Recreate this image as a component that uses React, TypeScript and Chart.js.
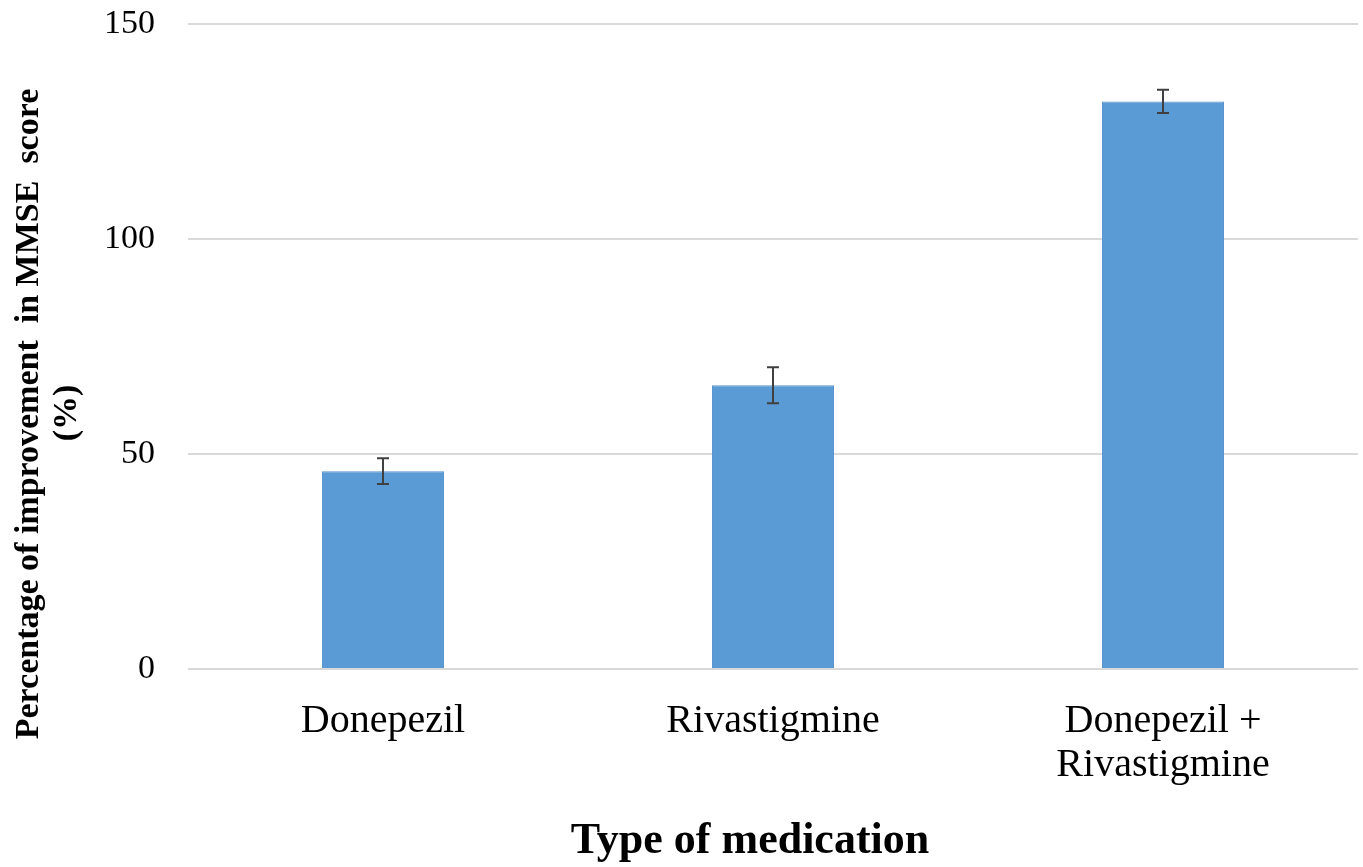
import React, { useEffect, useRef } from "react";
import { Chart, registerables } from "chart.js";

Chart.register(...registerables);

const categories: (string | string[])[] = ["Donepezil", "Rivastigmine", ["Donepezil +", "Rivastigmine"]];
const improvement = [46, 66, 132];
const errors = [3, 4.2, 2.7];
const yTicks = [0, 50, 100, 150];
const yTitleLines = ["Percentage of improvement  in MMSE  score", "(%)"];
const xTitle = "Type of medication";

const FONT = "'Liberation Serif', 'Times New Roman', serif";

const errorBarPlugin = {
  id: "errorBars",
  afterDatasetsDraw(chart: any) {
    const meta = chart.getDatasetMeta(0);
    const y = chart.scales.y;
    const ctx = chart.ctx;
    ctx.save();
    ctx.strokeStyle = "#404040";
    ctx.lineWidth = 2;
    meta.data.forEach((bar: any, i: number) => {
      const v = improvement[i];
      const e = errors[i];
      const x = bar.x;
      const yt = y.getPixelForValue(v + e);
      const yb = y.getPixelForValue(v - e);
      ctx.beginPath();
      ctx.moveTo(x, yt);
      ctx.lineTo(x, yb);
      ctx.moveTo(x - 6, yt);
      ctx.lineTo(x + 6, yt);
      ctx.moveTo(x - 6, yb);
      ctx.lineTo(x + 6, yb);
      ctx.stroke();
    });
    ctx.restore();
  },
};

const titlesPlugin = {
  id: "axisTitles",
  afterDraw(chart: any) {
    const ctx = chart.ctx;
    ctx.save();
    ctx.fillStyle = "#000000";
    ctx.textAlign = "center";
    ctx.textBaseline = "middle";
    ctx.font = `bold 34px ${FONT}`;
    const pos = [
      [29, 414],
      [67, 413],
    ];
    yTitleLines.forEach((line, i) => {
      ctx.save();
      ctx.translate(pos[i][0], pos[i][1]);
      ctx.rotate(-Math.PI / 2);
      ctx.fillText(line, 0, 0);
      ctx.restore();
    });
    ctx.font = `bold 44px ${FONT}`;
    ctx.textBaseline = "alphabetic";
    ctx.fillText(xTitle, 750, 853);
    ctx.restore();
  },
};

export default function App() {
  const ref = useRef<HTMLCanvasElement>(null);
  useEffect(() => {
    document.body.style.margin = "0";
    const chart = new Chart(ref.current!, {
      type: "bar",
      data: {
        labels: categories as any,
        datasets: [
          {
            data: improvement,
            backgroundColor: "#5B9BD5",
            borderColor: "#5592CC",
            borderWidth: 1,
            categoryPercentage: 1,
            barPercentage: 0.313,
          },
        ],
      },
      options: {
        animation: false,
        responsive: false,
        maintainAspectRatio: false,
        layout: { padding: { top: 24, right: 5, left: 0, bottom: 0 } },
        plugins: { legend: { display: false }, tooltip: { enabled: false } },
        scales: {
          x: {
            grid: { display: false },
            border: { display: false },
            ticks: {
              color: "#000000",
              font: { family: FONT, size: 40, lineHeight: 1.1 },
              padding: 22,
              maxRotation: 0,
            },
            afterFit(scale: any) {
              scale.height = 198;
              scale.paddingLeft = 0;
              scale.paddingRight = 0;
            },
          },
          y: {
            min: 0,
            max: 150,
            afterBuildTicks(scale: any) {
              scale.ticks = yTicks.map((v) => ({ value: v }));
            },
            grid: { color: "#d9d9d9", lineWidth: 2, drawTicks: false },
            border: { display: false },
            ticks: {
              color: "#000000",
              font: { family: FONT, size: 34 },
              padding: 33,
            },
            afterFit(scale: any) {
              scale.width = 188;
              scale.paddingTop = 0;
              scale.paddingBottom = 0;
            },
          },
        },
      },
      plugins: [errorBarPlugin, titlesPlugin],
    });
    return () => chart.destroy();
  }, []);
  return <canvas ref={ref} width={1363} height={867} style={{ display: "block" }} />;
}
